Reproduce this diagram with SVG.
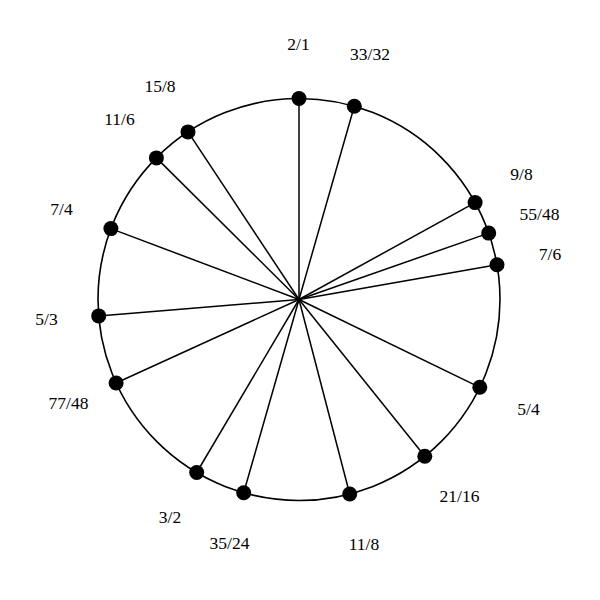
<svg xmlns="http://www.w3.org/2000/svg" width="600" height="600" viewBox="0 0 600 600">
<style>
.ring{fill:none;stroke:#000;stroke-width:1.6}
.spoke{stroke:#000;stroke-width:1.5}
.dot{fill:#000}
.lbl{font-family:"Liberation Serif","Times New Roman",serif;font-size:17.5px;text-anchor:middle;fill:#000}
</style>
<rect width="600" height="600" fill="#fff"/>
<circle class="ring" cx="299" cy="299.5" r="201"/>
<g id="connectors">
<line class="spoke" x1="299" y1="299.5" x2="299" y2="98.5"/>
<line class="spoke" x1="299" y1="299.5" x2="354.3" y2="106.3"/>
<line class="spoke" x1="299" y1="299.5" x2="475.1" y2="202.6"/>
<line class="spoke" x1="299" y1="299.5" x2="488.7" y2="233.1"/>
<line class="spoke" x1="299" y1="299.5" x2="497" y2="264.8"/>
<line class="spoke" x1="299" y1="299.5" x2="479.8" y2="387.3"/>
<line class="spoke" x1="299" y1="299.5" x2="424.8" y2="456.2"/>
<line class="spoke" x1="299" y1="299.5" x2="349.7" y2="494"/>
<line class="spoke" x1="299" y1="299.5" x2="243.7" y2="492.8"/>
<line class="spoke" x1="299" y1="299.5" x2="196.7" y2="472.5"/>
<line class="spoke" x1="299" y1="299.5" x2="116.1" y2="383"/>
<line class="spoke" x1="299" y1="299.5" x2="98.7" y2="315.9"/>
<line class="spoke" x1="299" y1="299.5" x2="110.9" y2="228.6"/>
<line class="spoke" x1="299" y1="299.5" x2="156.4" y2="157.9"/>
<line class="spoke" x1="299" y1="299.5" x2="188" y2="131.9"/>
</g>
<g id="n-2-1"><circle class="dot" cx="299" cy="98.5" r="7.5"/><text class="lbl" x="298.5" y="49.5">2/1</text></g>
<g id="n-33-32"><circle class="dot" cx="354.3" cy="106.3" r="7.5"/><text class="lbl" x="370" y="59.5">33/32</text></g>
<g id="n-9-8"><circle class="dot" cx="475.1" cy="202.6" r="7.5"/><text class="lbl" x="521.5" y="180">9/8</text></g>
<g id="n-55-48"><circle class="dot" cx="488.7" cy="233.1" r="7.5"/><text class="lbl" x="539.5" y="220">55/48</text></g>
<g id="n-7-6"><circle class="dot" cx="497" cy="264.8" r="7.5"/><text class="lbl" x="550" y="260">7/6</text></g>
<g id="n-5-4"><circle class="dot" cx="479.8" cy="387.3" r="7.5"/><text class="lbl" x="528.5" y="414.5">5/4</text></g>
<g id="n-21-16"><circle class="dot" cx="424.8" cy="456.2" r="7.5"/><text class="lbl" x="459.5" y="501.5">21/16</text></g>
<g id="n-11-8"><circle class="dot" cx="349.7" cy="494" r="7.5"/><text class="lbl" x="364" y="550">11/8</text></g>
<g id="n-35-24"><circle class="dot" cx="243.7" cy="492.8" r="7.5"/><text class="lbl" x="229.5" y="549">35/24</text></g>
<g id="n-3-2"><circle class="dot" cx="196.7" cy="472.5" r="7.5"/><text class="lbl" x="170" y="522.5">3/2</text></g>
<g id="n-77-48"><circle class="dot" cx="116.1" cy="383" r="7.5"/><text class="lbl" x="68.5" y="409">77/48</text></g>
<g id="n-5-3"><circle class="dot" cx="98.7" cy="315.9" r="7.5"/><text class="lbl" x="46.5" y="324.5">5/3</text></g>
<g id="n-7-4"><circle class="dot" cx="110.9" cy="228.6" r="7.5"/><text class="lbl" x="61.5" y="215">7/4</text></g>
<g id="n-11-6"><circle class="dot" cx="156.4" cy="157.9" r="7.5"/><text class="lbl" x="119.5" y="125">11/6</text></g>
<g id="n-15-8"><circle class="dot" cx="188" cy="131.9" r="7.5"/><text class="lbl" x="160" y="91.5">15/8</text></g>
</svg>
